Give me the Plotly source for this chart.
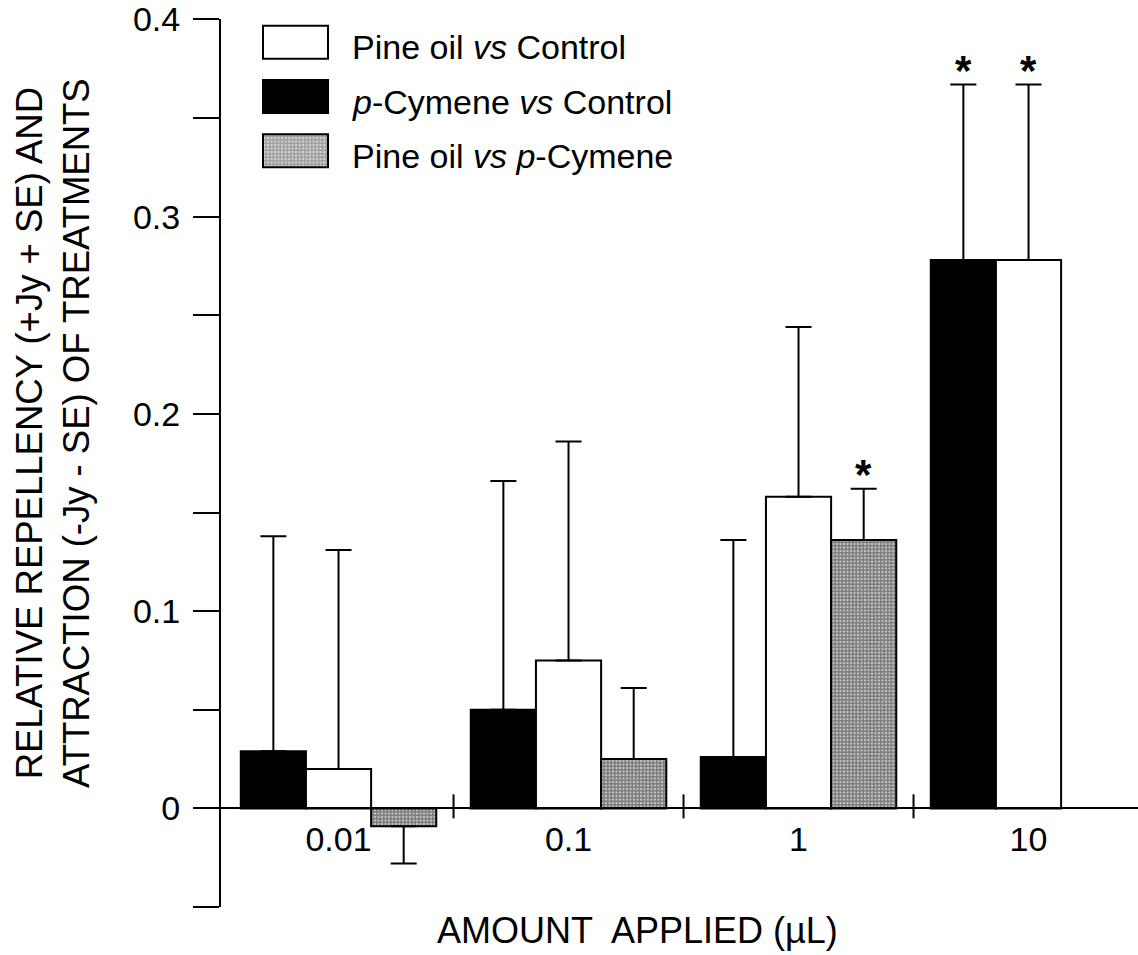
import plotly.graph_objects as go

# ---------------- data ----------------
categories = ["0.01", "0.1", "1", "10"]

# series in bar order within each group: black, white, gray
cymene_vs_control = [0.029, 0.050, 0.026, 0.278]
cymene_vs_control_err_top = [0.138, 0.166, 0.136, 0.367]
cymene_vs_control_sig = [False, False, False, True]

pine_vs_control = [0.020, 0.075, 0.158, 0.278]
pine_vs_control_err_top = [0.131, 0.186, 0.244, 0.367]
pine_vs_control_sig = [False, False, False, True]

pine_vs_cymene = [-0.009, 0.025, 0.136, None]
pine_vs_cymene_err_end = [-0.028, 0.061, 0.162, None]
pine_vs_cymene_sig = [False, False, True, False]

label_cymene = "<i>p</i>-Cymene <i>vs</i> Control"
label_pine = "Pine oil <i>vs</i> Control"
label_pine_cym = "Pine oil <i>vs</i> <i>p</i>-Cymene"
legend_order = [label_pine, label_cymene, label_pine_cym]

y_tick_vals = [-0.05, 0, 0.05, 0.1, 0.15, 0.2, 0.25, 0.3, 0.35, 0.4]
y_tick_text = ["", "0", "", "0.1", "", "0.2", "", "0.3", "", "0.4"]

y_title = ("RELATIVE REPELLENCY (+Jy + SE) AND<br>"
           "ATTRACTION (-Jy - SE) OF TREATMENTS")
x_title = "AMOUNT\u2002APPLIED (\u00b5L)"

# ---------------- style ----------------
FONT = "Liberation Sans, Arial, Helvetica, sans-serif"
PAT_SIZE, PAT_SOLIDITY = 3.5, 0.8
GRAY_PATTERN = dict(shape=".", fgcolor="black", bgcolor="white", size=PAT_SIZE, solidity=PAT_SOLIDITY)
styles = {
    label_cymene: dict(color="black", line=dict(color="black", width=2)),
    label_pine: dict(color="white", line=dict(color="black", width=2)),
    label_pine_cym: dict(color="white", line=dict(color="black", width=2), pattern=GRAY_PATTERN),
}

BARGAP = 0.15
x_idx = list(range(len(categories)))


def err_arrays(vals, ends):
    plus, minus = [], []
    for v, e in zip(vals, ends):
        if v is None:
            plus.append(None); minus.append(None)
        elif e >= v:
            plus.append(e - v); minus.append(0)
        else:
            plus.append(0); minus.append(v - e)
    return plus, minus


series = [
    (label_cymene, cymene_vs_control, cymene_vs_control_err_top, cymene_vs_control_sig),
    (label_pine, pine_vs_control, pine_vs_control_err_top, pine_vs_control_sig),
    (label_pine_cym, pine_vs_cymene, pine_vs_cymene_err_end, pine_vs_cymene_sig),
]

fig = go.Figure()
for name, vals, ends, sig in series:
    plus, minus = err_arrays(vals, ends)
    fig.add_trace(go.Bar(
        x=x_idx, y=vals, name=name, showlegend=False,
        marker=styles[name],
        error_y=dict(type="data", symmetric=False, array=plus, arrayminus=minus,
                     color="black", thickness=2, width=13),
        xaxis="x", yaxis="y",
    ))

# significance asterisks above the error bars
n_series = len(series)
bar_w = (1 - BARGAP) / n_series
annotations = []
for s, (name, vals, ends, sig) in enumerate(series):
    off = (s - (n_series - 1) / 2) * bar_w
    for k, flag in enumerate(sig):
        if flag and ends[k] is not None:
            annotations.append(dict(
                x=k + off, y=ends[k], xref="x", yref="y", text="<b>*</b>",
                showarrow=False, yanchor="middle", yshift=14,
                font=dict(family=FONT, size=42, color="black")))

# custom legend (swatches drawn as bars in a small subplot)
leg_y = list(range(len(legend_order)))
fig.add_trace(go.Bar(
    orientation="h", y=leg_y, x=[1] * len(legend_order), base=0,
    width=0.608, showlegend=False, hoverinfo="skip",
    marker=dict(
        color=[styles[n]["color"] for n in legend_order],
        line=dict(color="black", width=2),
        pattern=dict(shape=["" if "pattern" not in styles[n] else "." for n in legend_order],
                     fgcolor="black", bgcolor=[styles[n]["color"] for n in legend_order],
                     size=PAT_SIZE, solidity=PAT_SOLIDITY),
    ),
    xaxis="x2", yaxis="y2",
))
for k, name in enumerate(legend_order):
    annotations.append(dict(
        x=0.1407, y=k, xref="paper", yref="y2", text=name, showarrow=False,
        xanchor="left", yanchor="middle", yshift=-5,
        font=dict(family=FONT, size=34, color="black")))

# axis titles
annotations.append(dict(
    x=-0.1832, y=0.5338, xref="paper", yref="paper", text=y_title, showarrow=False,
    textangle=-90, xanchor="center", yanchor="middle",
    font=dict(family=FONT, size=36.5, color="black")))
annotations.append(dict(
    x=0.4547, y=-0.0263, xref="paper", yref="paper", text=x_title, showarrow=False,
    xanchor="center", yanchor="middle",
    font=dict(family=FONT, size=36, color="black")))

# group separator ticks crossing the zero axis
shapes = []
for k in range(len(categories) - 1):
    shapes.append(dict(
        type="line", xref="x", yref="y", x0=k + 0.5, x1=k + 0.5,
        ysizemode="pixel", yanchor=0, y0=-10, y1=14,
        line=dict(color="black", width=2)))

Y_MIN, Y_MAX = -0.05, 0.4
fig.update_layout(
    width=1138, height=955,
    margin=dict(l=221, r=0, t=19, b=48),
    paper_bgcolor="white", plot_bgcolor="white",
    barmode="group", bargap=BARGAP, bargroupgap=0,
    font=dict(family=FONT, color="black"),
    showlegend=False,
    xaxis=dict(
        domain=[0, 1], range=[-0.511, 3.476],
        tickvals=x_idx, ticktext=categories, ticks="",
        showline=True, linecolor="black", linewidth=2,
        anchor="free", position=(0 - Y_MIN) / (Y_MAX - Y_MIN),
        showgrid=False, zeroline=False,
        tickfont=dict(family=FONT, size=34, color="black"),
        ticklabelstandoff=1,
    ),
    yaxis=dict(
        range=[Y_MIN, Y_MAX + 0.0002], tickvals=y_tick_vals, ticktext=y_tick_text,
        ticks="outside", ticklen=26, tickwidth=2, tickcolor="black",
        showline=True, linecolor="black", linewidth=2,
        showgrid=False, zeroline=False,
        tickfont=dict(family=FONT, size=34, color="black"),
        ticklabelstandoff=6,
    ),
    xaxis2=dict(domain=[0.04367, 0.1188], range=[-0.03, 1.03], anchor="y2",
                visible=False, fixedrange=True),
    yaxis2=dict(domain=[0.8, 1.0], range=[2.844, -0.428], anchor="x2",
                visible=False, fixedrange=True),
    annotations=annotations,
    shapes=shapes,
)

fig.write_html("out.html")
